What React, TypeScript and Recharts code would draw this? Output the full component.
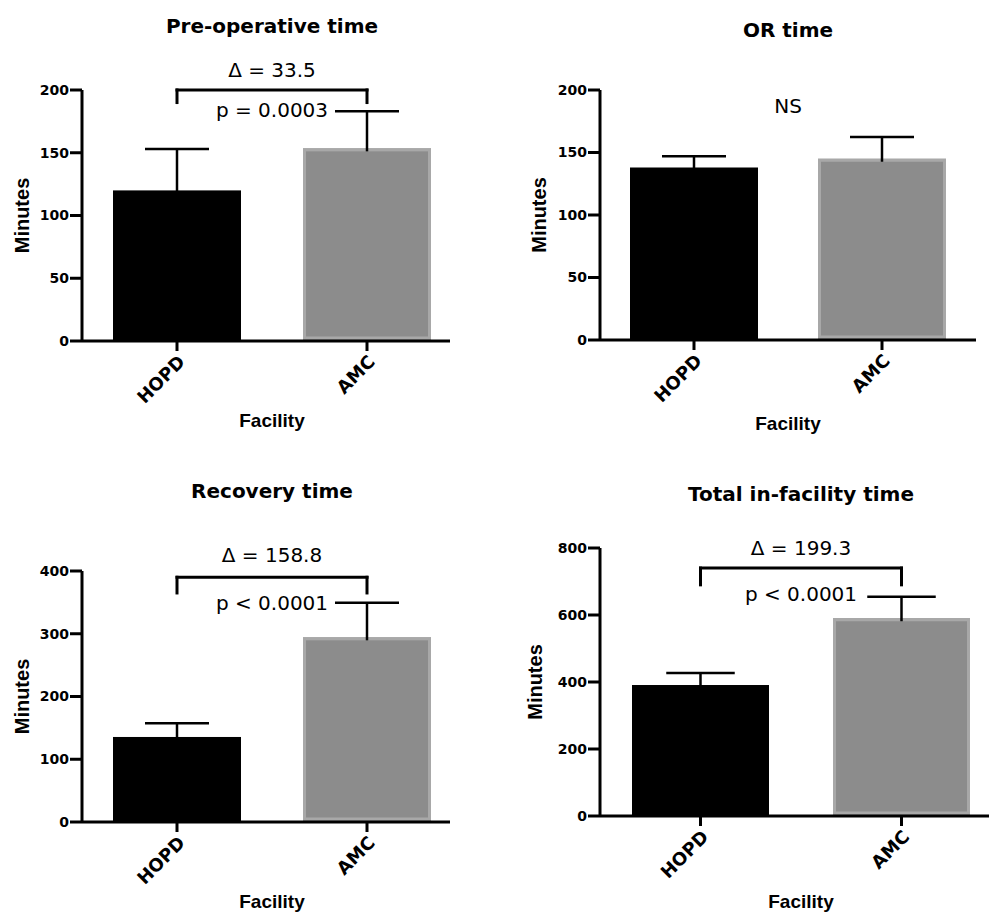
import React from 'react'
import { BarChart, Bar, XAxis, YAxis, ReferenceLine, Label } from 'recharts'

// Categories and colours
const facilities = ['HOPD', 'AMC']
const barFills = ['#000000', '#8c8c8c']
const barEdges = ['none', '#a8a8a8']

// Mean minutes and upper error
const preOpMean = [120, 153.5]
const preOpErr = [33, 29.5]
const orMean = [138, 145]
const orErr = [9, 17.5]
const recoveryMean = [135.5, 294.3]
const recoveryErr = [22, 55]
const totalMean = [391, 590.3]
const totalErr = [36, 64]

// Y ticks
const preOpTicks = [0, 50, 100, 150, 200]
const orTicks = [0, 50, 100, 150, 200]
const recoveryTicks = [0, 100, 200, 300, 400]
const totalTicks = [0, 200, 400, 600, 800]

// Significance brackets: [bar height, drop end]
const preOpBracket = [200, 190]
const recoveryBracket = [390, 365]
const totalBracket = [740, 690]
const orNsLevel = 200

const HEAD = 'DejaVu Sans'
const LABEL = 'Liberation Sans'

const toRows = (means: number[], errs: number[]) =>
    facilities.map((f, i) => ({ facility: f, mean: means[i], err: errs[i] }))

const MeanBar = (props: any) => {
    const { x, y, width, height, index } = props
    const edge = barEdges[index]
    return (
        <g>
            <rect x={x} y={y} width={width} height={height} fill={barFills[index]} />
            {edge !== 'none' && (
                <rect
                    x={x + 1.5}
                    y={y + 1.5}
                    width={width - 3}
                    height={Math.max(height - 4.5, 0)}
                    fill="none"
                    stroke={edge}
                    strokeWidth={3}
                />
            )}
        </g>
    )
}

const ErrorCap = (props: any) => {
    const { x, y, width, height } = props
    const cx = x + width / 2
    return (
        <g>
            <line x1={cx} x2={cx} y1={y + height + 3} y2={y} stroke="#000" strokeWidth={2.5} />
            <line x1={x + width / 4} x2={x + (width * 3) / 4} y1={y} y2={y} stroke="#000" strokeWidth={2.5} />
        </g>
    )
}

interface Bracket {
    levels: number[]
    delta: string
    p: string
    deltaOffset: number
    pOffset: number
}

interface PanelProps {
    title: string
    means: number[]
    errs: number[]
    ticks: number[]
    left: number
    top: number
    width: number
    height: number
    margin: { top: number; right: number; left: number; bottom: number }
    xAxisHeight: number
    padRight: number
    barSize: number
    titleX: number
    titleTop: number
    yLabelOffset: number
    xLabelOffset: number
    xLabelShift: number
    bracket?: Bracket
    ns?: boolean
}

const axisStroke = { stroke: '#000', strokeWidth: 3 }
const annot = { fontSize: 20, fill: '#000', fontFamily: HEAD }

const Panel: React.FC<PanelProps> = (p) => {
    const data = toRows(p.means, p.errs)
    const max = p.ticks[p.ticks.length - 1]
    return (
        <div style={{ position: 'absolute', left: p.left, top: p.top, width: p.width, height: p.height }}>
            <div
                style={{
                    position: 'absolute',
                    left: p.titleX - 200,
                    top: p.titleTop,
                    width: 400,
                    textAlign: 'center',
                    fontFamily: HEAD,
                    fontWeight: 'bold',
                    fontSize: 20,
                    lineHeight: '20px',
                    color: '#000',
                }}
            >
                {p.title}
            </div>
            <BarChart width={p.width} height={p.height} data={data} margin={p.margin}>
                <XAxis
                    dataKey="facility"
                    height={p.xAxisHeight}
                    padding={{ left: 0, right: p.padRight }}
                    axisLine={axisStroke}
                    tickLine={axisStroke}
                    tickSize={10}
                    tickMargin={3}
                    interval={0}
                    tick={{ angle: -45, textAnchor: 'end', fill: '#000', fontSize: 18, fontWeight: 'bold', fontFamily: HEAD }}
                >
                    <Label
                        value="Facility"
                        position="insideBottom"
                        offset={p.xLabelOffset}
                        dx={p.xLabelShift}
                        fill="#000"
                        style={{ fontFamily: LABEL, fontSize: 19, fontWeight: 'bold' }}
                    />
                </XAxis>
                <YAxis
                    width={70}
                    domain={[0, max]}
                    ticks={p.ticks}
                    interval={0}
                    axisLine={axisStroke}
                    tickLine={axisStroke}
                    tickSize={12}
                    tickMargin={1}
                    tick={{ fill: '#000', fontSize: 14, fontWeight: 'bold', fontFamily: HEAD }}
                >
                    <Label
                        value="Minutes"
                        angle={-90}
                        position="insideLeft"
                        offset={p.yLabelOffset}
                        fill="#000"
                        style={{ textAnchor: 'middle', fontFamily: LABEL, fontSize: 20, fontWeight: 'bold' }}
                    />
                </YAxis>
                <Bar dataKey="mean" stackId="s" barSize={p.barSize} shape={<MeanBar />} isAnimationActive={false} />
                <Bar dataKey="err" stackId="s" barSize={p.barSize} shape={<ErrorCap />} isAnimationActive={false} />
                {p.bracket && (
                    <ReferenceLine
                        segment={[
                            { x: facilities[0], y: p.bracket.levels[0] },
                            { x: facilities[1], y: p.bracket.levels[0] },
                        ]}
                        stroke="#000"
                        strokeWidth={3}
                        strokeLinecap="square"
                    >
                        <Label value={p.bracket.delta} position="top" offset={p.bracket.deltaOffset} {...annot} />
                        <Label value={p.bracket.p} position="bottom" offset={p.bracket.pOffset} {...annot} />
                    </ReferenceLine>
                )}
                {p.bracket &&
                    facilities.map((f) => (
                        <ReferenceLine
                            key={f}
                            segment={[
                                { x: f, y: p.bracket!.levels[0] },
                                { x: f, y: p.bracket!.levels[1] },
                            ]}
                            stroke="#000"
                            strokeWidth={3}
                            strokeLinecap="square"
                        />
                    ))}
                {p.ns && (
                    <ReferenceLine
                        segment={[
                            { x: facilities[0], y: orNsLevel },
                            { x: facilities[1], y: orNsLevel },
                        ]}
                        stroke="none"
                    >
                        <Label value="NS" position="bottom" offset={9} {...annot} />
                    </ReferenceLine>
                )}
            </BarChart>
        </div>
    )
}

export default function App() {
    return (
        <div
            style={{
                position: 'absolute',
                left: 0,
                top: 0,
                width: 989,
                height: 918,
                overflow: 'hidden',
                background: '#fff',
                fontFamily: HEAD,
            }}
        >
            <Panel
                title="Pre-operative time"
                means={preOpMean}
                errs={preOpErr}
                ticks={preOpTicks}
                left={0}
                top={0}
                width={470}
                height={450}
                margin={{ top: 90, right: 20, left: 12, bottom: 9 }}
                xAxisHeight={100}
                padRight={-12}
                barSize={128}
                titleX={272}
                titleTop={16}
                yLabelOffset={10}
                xLabelOffset={14}
                xLabelShift={6}
                bracket={{ levels: preOpBracket, delta: '\u0394 = 33.5', p: 'p = 0.0003', deltaOffset: 13, pOffset: 13 }}
            />
            <Panel
                title="OR time"
                means={orMean}
                errs={orErr}
                ticks={orTicks}
                left={500}
                top={0}
                width={489}
                height={450}
                margin={{ top: 90, right: 13, left: 30, bottom: 10 }}
                xAxisHeight={100}
                padRight={0}
                barSize={128}
                titleX={288}
                titleTop={20}
                yLabelOffset={9}
                xLabelOffset={10}
                xLabelShift={0}
                ns
            />
            <Panel
                title="Recovery time"
                means={recoveryMean}
                errs={recoveryErr}
                ticks={recoveryTicks}
                left={0}
                top={460}
                width={470}
                height={458}
                margin={{ top: 111, right: 20, left: 12, bottom: 6 }}
                xAxisHeight={90}
                padRight={-12}
                barSize={128}
                titleX={272}
                titleTop={21}
                yLabelOffset={10}
                xLabelOffset={4}
                xLabelShift={6}
                bracket={{ levels: recoveryBracket, delta: '\u0394 = 158.8', p: 'p < 0.0001', deltaOffset: 15.5, pOffset: 18.5 }}
            />
            <Panel
                title="Total in-facility time"
                means={totalMean}
                errs={totalErr}
                ticks={totalTicks}
                left={500}
                top={460}
                width={520}
                height={458}
                margin={{ top: 88, right: 18, left: 30, bottom: 7 }}
                xAxisHeight={95}
                padRight={0}
                barSize={137}
                titleX={301}
                titleTop={24}
                yLabelOffset={5}
                xLabelOffset={3}
                xLabelShift={0}
                bracket={{ levels: totalBracket, delta: '\u0394 = 199.3', p: 'p < 0.0001', deltaOffset: 13.3, pOffset: 19 }}
            />
        </div>
    )
}
